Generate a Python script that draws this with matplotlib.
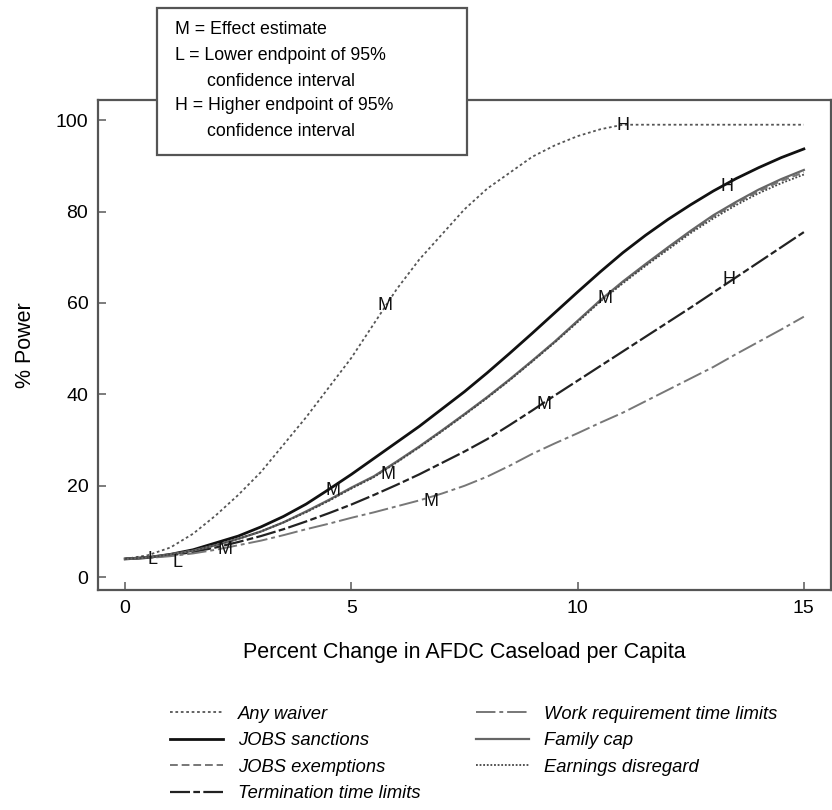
import matplotlib
matplotlib.use("Agg")
import matplotlib.pyplot as plt
from matplotlib.patches import Rectangle

plt.rcParams['font.family'] = ['Liberation Sans', 'DejaVu Sans']

# ---- data (every 0.5 percentage points) ----
x_vals = [0, 0.5, 1, 1.5, 2, 2.5, 3, 3.5, 4, 4.5, 5, 5.5, 6, 6.5, 7, 7.5,
          8, 8.5, 9, 9.5, 10, 10.5, 11, 11.5, 12, 12.5, 13, 13.5, 14, 14.5, 15]
any_waiver = [4, 4.8, 6.5, 9.5, 13.5, 18, 23, 29, 35, 41.5, 48, 55.5, 63, 69.5, 75, 80.5,
              85, 88.5, 92, 94.5, 96.5, 98, 99, 99, 99, 99, 99, 99, 99, 99, 99]
jobs_sanctions = [4, 4.3, 5, 6, 7.5, 9, 11, 13.3, 16, 19.2, 22.5, 26, 29.5, 33, 36.8, 40.6,
                  44.7, 49, 53.4, 57.9, 62.4, 66.8, 71, 74.8, 78.3, 81.5, 84.5, 87.2, 89.6, 91.8, 93.7]
jobs_exemptions = [4, 4.3, 5, 5.8, 7, 8.4, 10, 12, 14.3, 16.8, 19.5, 22, 25.2, 28.5, 32, 35.6,
                   39.3, 43.2, 47.3, 51.5, 56, 60.5, 64.5, 68.3, 72, 75.6, 78.9, 81.8, 84.4, 86.7, 88.6]
termination_limits = [4, 4.3, 4.8, 5.5, 6.5, 7.7, 9, 10.5, 12.2, 14, 15.9, 18, 20.2, 22.5, 25, 27.5,
                      30.2, 33.3, 36.5, 39.8, 43, 46.2, 49.4, 52.6, 55.8, 59, 62.3, 65.6, 68.9, 72.2, 75.5]
work_req_limits = [4, 4.2, 4.6, 5.2, 6, 7, 8, 9.2, 10.5, 11.7, 13, 14.2, 15.5, 16.8, 18.3, 20,
                   22, 24.4, 27, 29.3, 31.5, 33.8, 36, 38.5, 41, 43.5, 46, 48.8, 51.5, 54.2, 57]
family_cap = [4, 4.3, 5, 5.8, 7, 8.4, 10, 12, 14.4, 16.9, 19.6, 22.1, 25.3, 28.6, 32.1, 35.7,
              39.4, 43.3, 47.4, 51.6, 56.1, 60.6, 64.7, 68.5, 72.2, 75.8, 79.2, 82.1, 84.8, 87.1, 89.1]
earnings_disregard = [4, 4.3, 5, 5.8, 7, 8.4, 10, 12, 14.2, 16.7, 19.4, 21.9, 25.1, 28.4, 31.9, 35.5,
                      39.2, 43.1, 47.2, 51.4, 55.8, 60.3, 64.3, 68.1, 71.7, 75.3, 78.5, 81.4, 84.0, 86.2, 88.1]

point_labels = ["L", "L", "M", "M", "M", "M", "M", "M", "M", "H", "H", "H"]
point_x = [0.6, 1.15, 2.2, 5.75, 4.6, 5.8, 10.6, 9.25, 6.75, 11.0, 13.3, 13.35]
point_y = [3.8, 3.3, 6.0, 59.5, 19.0, 22.5, 61.0, 37.8, 16.5, 98.8, 85.5, 65.2]

x_ticks = [0, 5, 10, 15]
y_ticks = [0, 20, 40, 60, 80, 100]

key_lines = ["M = Effect estimate", "L = Lower endpoint of 95%", "confidence interval",
             "H = Higher endpoint of 95%", "confidence interval"]

# ---- figure ----
fig = plt.figure(figsize=(8.32, 8.10), dpi=100)
ax = fig.add_axes([0.1178, 0.2716, 0.8810, 0.6049])

ax.plot(x_vals, any_waiver, color='#555555', lw=1.3, linestyle=(0, (1.5, 1.5)), label='Any waiver')
ax.plot(x_vals, jobs_sanctions, color='#111111', lw=2.0, linestyle='-', label='JOBS sanctions')
ax.plot(x_vals, jobs_exemptions, color='#777777', lw=1.4, linestyle=(0, (4, 2)), label='JOBS exemptions')
ax.plot(x_vals, termination_limits, color='#222222', lw=1.6, linestyle=(0, (9, 1.5, 3, 1.5)), label='Termination time limits')
ax.plot(x_vals, work_req_limits, color='#777777', lw=1.4, linestyle=(0, (10, 2, 2, 2)), label='Work requirement time limits')
ax.plot(x_vals, family_cap, color='#666666', lw=1.6, linestyle='-', label='Family cap')
ax.plot(x_vals, earnings_disregard, color='#444444', lw=1.3, linestyle=(0, (1, 1)), label='Earnings disregard')

for t, px, py in zip(point_labels, point_x, point_y):
    ax.text(px, py, t, ha='center', va='center', fontsize=13, color='#111111')

ax.set_xlim(-0.6, 15.6)
ax.set_ylim(-2.8, 104.4)
ax.set_xticks(x_ticks)
ax.set_yticks(y_ticks)
ax.tick_params(direction='in', length=6, width=1.2, color='#666666', labelsize=14, pad=7)
for s in ax.spines.values():
    s.set_color('#555555')
    s.set_linewidth(1.6)

ax.set_xlabel('Percent Change in AFDC Caseload per Capita', fontsize=15.5, labelpad=18)
ax.set_ylabel('% Power', fontsize=15.5, labelpad=14)

# key box overlapping the plot frame
box = Rectangle((157 / 832, 1 - 155 / 810), 310 / 832, 147 / 810, transform=fig.transFigure,
                facecolor='white', edgecolor='#555555', lw=1.6, zorder=5)
fig.patches.append(box)
key_x = [175, 175, 207, 175, 207]
key_y = [30, 55, 81, 106, 132]
for txt, kx, ky in zip(key_lines, key_x, key_y):
    fig.text(kx / 832, 1 - ky / 810, txt, fontsize=12.8, va='center', ha='left', zorder=6)

handles, labels = ax.get_legend_handles_labels()
leg = fig.legend(handles, labels, loc='upper left', bbox_to_anchor=(0.1845, 0.1490), ncol=2,
                 frameon=False, fontsize=13.2, handlelength=2.9, handletextpad=0.82,
                 columnspacing=3.0, labelspacing=0.52)
for t in leg.get_texts():
    t.set_fontstyle('italic')

fig.savefig('out.png', dpi=100)
